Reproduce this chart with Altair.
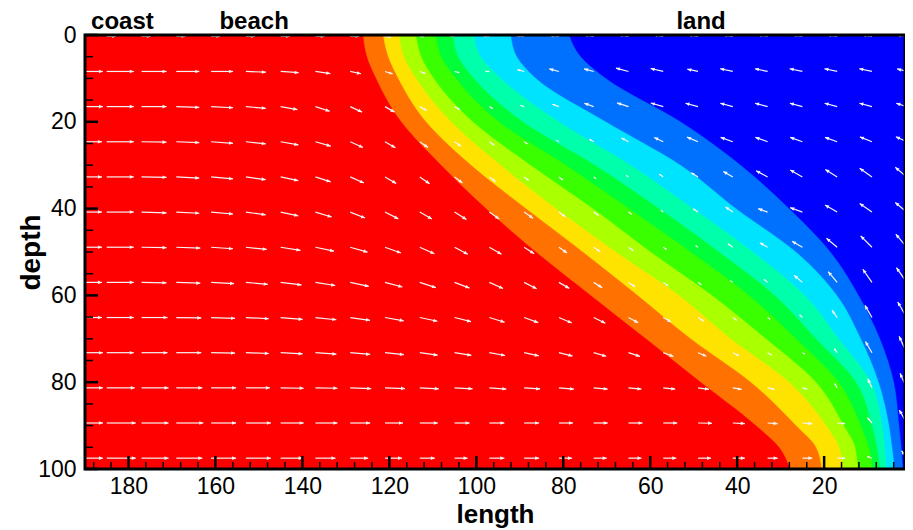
import math
import altair as alt
import pandas as pd

FONT = "Liberation Sans"

# ---------------- contour bands: boundary length at each depth ----------------
DEPTHS = [0, 5, 10, 20, 30, 40, 50, 60, 70, 80, 90, 95, 100]
B1 = [126.0, 125.1, 123.0, 117.2, 108.0, 97.7, 86.2, 73.6, 60.9, 48.3, 35.6, 30.3, 27.8]
B2 = [121.4, 120.2, 117.9, 111.5, 101.1, 88.5, 75.4, 62.8, 50.6, 36.8, 26.4, 21.8, 20.5]
B3 = [117.7, 116.6, 113.8, 105.7, 94.3, 81.6, 67.8, 53.3, 41.4, 28.0, 19.5, 16.5, 15.6]
B4 = [113.8, 112.6, 109.7, 100.7, 87.4, 73.1, 59.8, 45.7, 33.3, 21.8, 15.4, 12.8, 12.2]
B5 = [109.2, 108.0, 104.6, 94.7, 79.3, 64.8, 50.6, 37.2, 26.4, 16.6, 11.5, 9.7, 8.7]
B6 = [105.3, 104.1, 100.5, 89.2, 72.6, 57.9, 44.1, 31.3, 21.8, 12.6, 8.9, 7.8, 7.1]
B7 = [100.5, 98.9, 94.3, 80.9, 64.4, 50.1, 36.3, 24.4, 16.6, 9.2, 6.6, 6.0, 5.5]
B8 = [92.0, 90.6, 86.2, 70.1, 52.9, 40.2, 26.4, 17.0, 11.5, 7.4, 5.0, 4.3, 3.7]
B9 = [78.6, 75.9, 70.1, 52.9, 39.1, 28.0, 18.5, 12.0, 7.1, 3.9, 2.7, 2.2, 1.8]
FIELD_LEFT = 193.0
FIELD_RIGHT = 0.0
BAND_COLORS = ["#FF0000", "#FF7100", "#FFE300", "#AAFF00", "#39FF00",
               "#00FF39", "#00FFAA", "#00E3FF", "#0071FF", "#0000FF"]

# ---------------- vector field ----------------
COLS = [193, 185, 177, 169, 161, 153, 145, 137, 129, 121, 113, 105, 97,
        89, 81, 73, 65, 57, 49, 41, 33, 25, 17, 9, 1]
ROW_DEPTHS = [0.3, 8.4, 16.5, 24.6, 32.7, 40.8, 48.9, 57.0, 65.1, 73.2, 81.3, 89.4, 97.5]
ARROW_LEN = [
    [9, 9, 9, 9, 9, 9, 9, 9, 9, 6, 4, 4, 6, 8, 9, 10, 10, 10, 10, 10, 10, 10, 10, 10, 10],
    [31, 27, 25, 23, 22, 20, 18, 15, 11, 8, 6, 5, 4, 7, 10, 10, 13, 13, 11, 13, 13, 13, 13, 13, 10],
    [31, 27, 25, 23, 22, 20, 17, 15, 13, 11, 8, 6, 4, 4, 7, 10, 12, 13, 13, 13, 13, 13, 13, 13, 11],
    [30, 27, 25, 23, 22, 20, 18, 16, 14, 12, 10, 8, 6, 4, 3, 5, 8, 10, 12, 13, 13, 13, 13, 13, 12],
    [30, 27, 25, 23, 22, 20, 18, 16, 15, 13, 12, 10, 8, 6, 5, 3, 3, 5, 8, 11, 13, 14, 14, 15, 15],
    [30, 27, 25, 23, 22, 20, 18, 17, 16, 15, 14, 14, 12, 11, 8, 6, 4, 3, 6, 9, 10, 13, 14, 15, 15],
    [30, 27, 25, 24, 22, 21, 20, 19, 18, 17, 16, 15, 14, 12, 10, 8, 6, 4, 3, 6, 9, 12, 14, 16, 17],
    [30, 27, 25, 24, 23, 22, 21, 20, 19, 18, 17, 16, 15, 14, 12, 10, 8, 6, 4, 3, 5, 11, 14, 16, 18],
    [30, 27, 26, 25, 24, 23, 22, 21, 20, 19, 18, 17, 16, 15, 14, 13, 11, 9, 7, 5, 3, 4, 9, 14, 18],
    [31, 27, 26, 25, 24, 23, 22, 21, 20, 19, 18, 17, 16, 15, 14, 13, 12, 11, 9, 7, 5, 3, 5, 13, 18],
    [31, 28, 27, 26, 25, 24, 23, 22, 21, 20, 19, 18, 17, 16, 15, 14, 13, 12, 11, 9, 7, 5, 5, 10, 16],
    [31, 29, 27, 27, 25, 25, 23, 22, 20, 18, 18, 15, 15, 15, 14, 14, 14, 14, 14, 12, 10, 10, 8, 7, 15],
    [31, 29, 27, 26, 25, 25, 22, 20, 18, 17, 15, 13, 15, 15, 13, 13, 13, 13, 13, 12, 10, 10, 8, 5, 9],
]
ARROW_ANG = [
    [0, 0, 0, 0, 0, 0, 0, 0, 0, 10, 10, 180, 180, 185, 185, 188, 188, 188, 188, 188, 188, 188, 188, 188, 188],
    [0, 0, 0, 0, 0, 2, 4, 8, 12, 18, 20, 15, 180, 195, 195, 195, 195, 193, 192, 192, 192, 192, 192, 192, 195],
    [0, 0, 0, 2, 3, 5, 10, 18, 25, 30, 30, 30, 30, 200, 200, 200, 198, 196, 195, 195, 195, 195, 195, 195, 198],
    [0, 0, 1, 2, 4, 6, 10, 16, 24, 30, 35, 35, 35, 35, 210, 210, 208, 205, 203, 200, 200, 200, 200, 202, 205],
    [0, 0, 1, 3, 5, 8, 12, 18, 24, 30, 35, 38, 38, 38, 38, 38, 215, 215, 212, 210, 208, 210, 212, 215, 220],
    [0, 0, 2, 3, 5, 8, 12, 17, 22, 27, 30, 32, 35, 35, 35, 35, 35, 215, 215, 215, 200, 200, 210, 215, 220],
    [0, 0, 1, 2, 4, 6, 9, 12, 16, 20, 24, 28, 30, 33, 35, 35, 35, 35, 215, 215, 210, 210, 220, 225, 230],
    [0, 0, 1, 2, 3, 5, 7, 9, 12, 15, 18, 21, 24, 27, 30, 32, 33, 35, 35, 215, 220, 220, 230, 235, 235],
    [0, 0, 0, 1, 2, 3, 5, 6, 8, 10, 12, 14, 17, 20, 23, 26, 28, 30, 32, 35, 35, 225, 235, 240, 240],
    [0, 0, 0, 0, 1, 2, 3, 4, 5, 6, 8, 9, 10, 12, 14, 16, 18, 20, 23, 26, 30, 30, 235, 240, 245],
    [0, 0, 0, 0, 0, 0, 1, 1, 2, 2, 3, 3, 4, 4, 5, 5, 6, 6, 8, 10, 12, 15, 240, 245, 245],
    [0, 0, 0, 0, 0, 0, 0, 0, 0, 0, 0, 0, 0, 0, 0, 0, 0, 0, 1, 3, 4, 4, 5, 230, 240],
    [0, 0, 0, 0, 0, 0, 0, 0, 0, 0, 0, 0, 0, 0, 0, 0, 0, 0, 0, 0, 0, 0, 0, 200, 235],
]

# ---------------- axes / annotations ----------------
X_DOMAIN = [1.4, 190]
Y_DOMAIN = [0, 100]
X_MAJOR = [180, 160, 140, 120, 100, 80, 60, 40, 20]
X_MINOR = [188, 184, 176, 172, 168, 164, 156, 152, 148, 144, 136, 132, 128, 124,
           116, 112, 108, 104, 96, 92, 88, 84, 76, 72, 68, 64, 56, 52, 48, 44,
           36, 32, 28, 24, 16, 12, 8, 4]
Y_MAJOR = [0, 20, 40, 60, 80, 100]
Y_MINOR = [5, 10, 15, 25, 30, 35, 45, 50, 55, 65, 70, 75, 85, 90, 95]
TOP_LABELS = ["coast", "beach", "land"]
TOP_LABEL_X = [181.4, 151.1, 48.3]

W, H = 820, 434
PX_PER_LEN = W / (X_DOMAIN[1] - X_DOMAIN[0])
PX_PER_DEPTH = H / (Y_DOMAIN[1] - Y_DOMAIN[0])

xs = alt.Scale(domain=X_DOMAIN, reverse=True, nice=False, zero=False)
ys = alt.Scale(domain=Y_DOMAIN, reverse=True, nice=False, zero=False)

x_axis = alt.Axis(values=X_MAJOR, title="length", ticks=False, tickSize=0, domain=False,
                  grid=False, labelFont=FONT, labelFontSize=23, labelColor="black",
                  labelPadding=6, titleFont=FONT, titleFontSize=26, titleFontWeight="bold",
                  titleColor="black", titleX=W / 2, titleY=53, titleBaseline="alphabetic",
                  titleAlign="center")
y_axis = alt.Axis(values=Y_MAJOR, title="depth", ticks=False, tickSize=0, domain=False,
                  grid=False, labelFont=FONT, labelFontSize=23, labelColor="black",
                  labelPadding=9, titleFont=FONT, titleFontSize=28, titleFontWeight="bold",
                  titleColor="black", titleAngle=270, titleX=-46, titleY=H / 2,
                  titleBaseline="alphabetic", titleAlign="center")


def X(field):
    return alt.X(field, scale=xs, axis=x_axis, stack=None)


def Y(field):
    return alt.Y(field, scale=ys, axis=y_axis)


# ---- bands: each band drawn from its left boundary to field right edge ----
left_edges = [[FIELD_LEFT] * len(DEPTHS), B1, B2, B3, B4, B5, B6, B7, B8, B9]
layers = []
for edge, col in zip(left_edges, BAND_COLORS):
    df = pd.DataFrame({"depth": DEPTHS, "x0": edge, "x1": [FIELD_RIGHT] * len(DEPTHS)})
    layers.append(
        alt.Chart(df).mark_area(orient="horizontal", interpolate="monotone", clip=True,
                                color=col, stroke=col, strokeWidth=0.5)
        .encode(y=Y("depth:Q"), x=X("x0:Q"), x2="x1:Q")
    )

# ---- arrows ----
recs = []
for d, Ls, As in zip(ROW_DEPTHS, ARROW_LEN, ARROW_ANG):
    for x, L, a in zip(COLS, Ls, As):
        r = math.radians(a)
        x2 = x - L * math.cos(r) / PX_PER_LEN
        y2 = d + L * math.sin(r) / PX_PER_DEPTH
        head = min(4.0, 0.4 * L)
        recs.append({"depth": d, "x0": x, "dx": x2, "dy": y2, "ang": a % 360, "hs": (2 * head) ** 2})
arrow_df = pd.DataFrame(recs)

shafts = alt.Chart(arrow_df).mark_rule(color="#F4F4F4", strokeWidth=1.2, clip=True).encode(
    x=X("x0:Q"), y=Y("depth:Q"), x2="dx:Q", y2="dy:Q")
heads = alt.Chart(arrow_df).mark_point(shape="M0,0L-1,-0.45L-1,0.45Z", filled=True,
                                       color="#F4F4F4", opacity=1, strokeWidth=0, clip=True).encode(
    x=X("dx:Q"), y=Y("dy:Q"),
    angle=alt.Angle("ang:Q", scale=None), size=alt.Size("hs:Q", scale=None))

# ---- frame and inward ticks ----
frame = alt.Chart(alt.Data(values=[{}])).mark_rect(fillOpacity=0, stroke="black", strokeWidth=3).encode(
    x=alt.value(0), x2=alt.value(W), y=alt.value(0), y2=alt.value(H))


def xticks(vals, length, width):
    return alt.Chart(pd.DataFrame({"x0": vals})).mark_rule(color="black", strokeWidth=width).encode(
        x=X("x0:Q"), y=alt.value(H), y2=alt.value(H - length))


def yticks(vals, length, width):
    return alt.Chart(pd.DataFrame({"depth": vals})).mark_rule(color="black", strokeWidth=width).encode(
        y=Y("depth:Q"), x=alt.value(0), x2=alt.value(length))


ticks = [xticks(X_MAJOR, 13, 2.5), xticks(X_MINOR, 7, 1.5),
         yticks(Y_MAJOR, 13, 2.5), yticks(Y_MINOR, 8, 1.5)]

labels = alt.Chart(pd.DataFrame({"t": TOP_LABELS, "x0": TOP_LABEL_X})).mark_text(
    font=FONT, fontSize=24, fontWeight="bold", baseline="alphabetic", align="center",
    color="black").encode(x=X("x0:Q"), y=alt.value(-6), text="t:N")

chart = alt.layer(*layers, shafts, heads, frame, *ticks, labels).properties(
    width=W, height=H,
    autosize=alt.AutoSizeParams(type="none"),
    padding={"left": 77, "top": 27, "right": 0, "bottom": 60},
    background="white",
).configure_view(stroke=None)

chart.save("out.html", embed_options={"renderer": "svg", "actions": False})
